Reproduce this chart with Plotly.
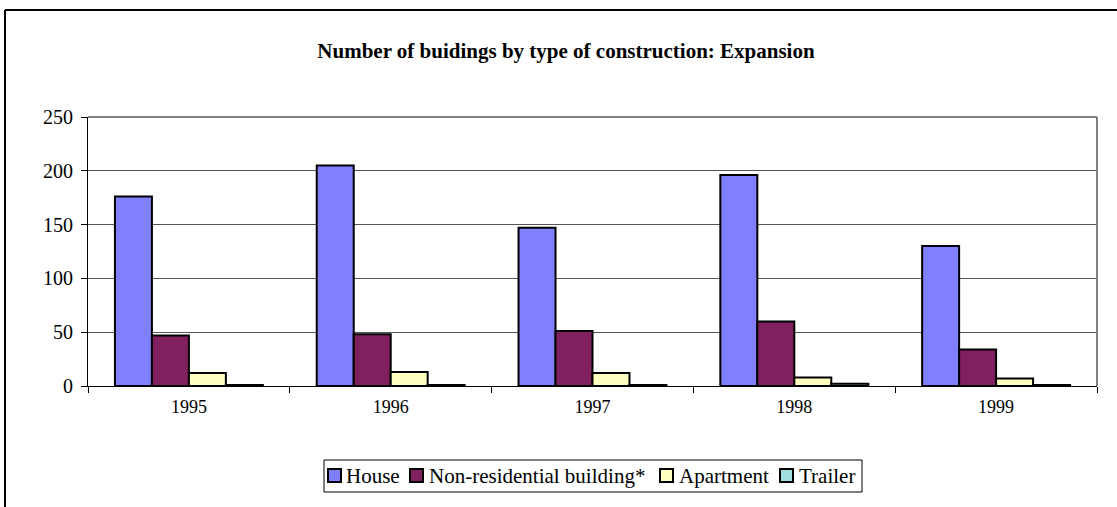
import plotly.graph_objects as go

years = ["1995", "1996", "1997", "1998", "1999"]
house = [176, 205, 147, 196, 130]
non_residential = [47, 48, 51, 60, 34]
apartment = [12, 13, 12, 8, 7]
trailer = [1, 1, 1, 2, 1]

series_names = ["House", "Non-residential building*", "Apartment", "Trailer"]
series_values = [house, non_residential, apartment, trailer]
series_colors = ["#8080FF", "#80205F", "#FFFFC0", "#A0E0E0"]

W, H = 1117, 507
L, R, T, B = 88, 20, 117, 121
plot_w = W - L - R
plot_h = H - T - B

FONT = "Liberation Serif, Times New Roman, serif"

fig = go.Figure()
for name, vals, color in zip(series_names, series_values, series_colors):
    fig.add_trace(go.Bar(
        x=years, y=vals, name=name, showlegend=False,
        marker=dict(color=color, line=dict(color="black", width=2)),
    ))


def px_x(p):
    return (p - L) / plot_w


def px_y(p):
    return (H - B - p) / plot_h


shapes = [
    # plot area frame (top and right edges in grey)
    dict(type="line", xref="paper", yref="paper", x0=0, x1=1, y0=1, y1=1,
         line=dict(color="#808080", width=2)),
    dict(type="line", xref="paper", yref="paper", x0=1, x1=1, y0=0, y1=1,
         line=dict(color="#808080", width=2)),
    # outer chart frame
    dict(type="line", xref="paper", yref="paper", x0=px_x(5), x1=px_x(W + 10),
         y0=px_y(10), y1=px_y(10), line=dict(color="black", width=2)),
    dict(type="line", xref="paper", yref="paper", x0=px_x(5), x1=px_x(5),
         y0=px_y(10), y1=px_y(H + 10), line=dict(color="black", width=2)),
    # legend box
    dict(type="rect", xref="paper", yref="paper",
         x0=px_x(324), x1=px_x(862), y0=px_y(460), y1=px_y(492),
         line=dict(color="black", width=1), fillcolor="white", layer="below"),
]

annotations = []
# legend entries: swatch left edge and label left edge (pixels)
legend_swatch_x = [328, 410, 660, 780]
legend_text_x = [344, 427, 677, 797]
sw_top, sw_bot, leg_mid = 469, 482, 476
for name, color, sx, tx in zip(series_names, series_colors,
                               legend_swatch_x, legend_text_x):
    shapes.append(dict(
        type="rect", xref="paper", yref="paper",
        x0=px_x(sx), x1=px_x(sx + 13), y0=px_y(sw_top), y1=px_y(sw_bot),
        line=dict(color="black", width=2), fillcolor=color,
    ))
    annotations.append(dict(
        text=name, xref="paper", yref="paper", x=px_x(tx), y=px_y(leg_mid),
        xanchor="left", yanchor="middle", showarrow=False,
        font=dict(family=FONT, size=21, color="black"),
    ))

fig.update_layout(
    width=W, height=H,
    margin=dict(l=L, r=R, t=T, b=B, autoexpand=False),
    paper_bgcolor="white", plot_bgcolor="white",
    font=dict(family=FONT, size=20, color="black"),
    title=dict(
        text="<b>Number of buidings by type of construction: Expansion</b>",
        x=566 / W, xanchor="center", y=1 - 51 / H, yanchor="middle",
        font=dict(family=FONT, size=21, color="black"),
    ),
    barmode="group", bargap=0.267, bargroupgap=0,
    showlegend=False,
    shapes=shapes,
    annotations=annotations,
)

fig.update_xaxes(
    type="category", showline=True, linecolor="black", linewidth=1,
    ticks="outside", tickson="boundaries", ticklen=6, tickcolor="black",
    ticklabelstandoff=4,
    showgrid=False, tickfont=dict(family=FONT, size=18),
)
fig.update_yaxes(
    range=[0, 250], dtick=50, showline=True, linecolor="black", linewidth=1,
    ticks="outside", ticklen=6, tickcolor="black",
    ticklabelstandoff=4,
    showgrid=True, gridcolor="#555555", gridwidth=1, zeroline=False,
    tickfont=dict(family=FONT, size=20),
)

fig.write_html("out.html")
